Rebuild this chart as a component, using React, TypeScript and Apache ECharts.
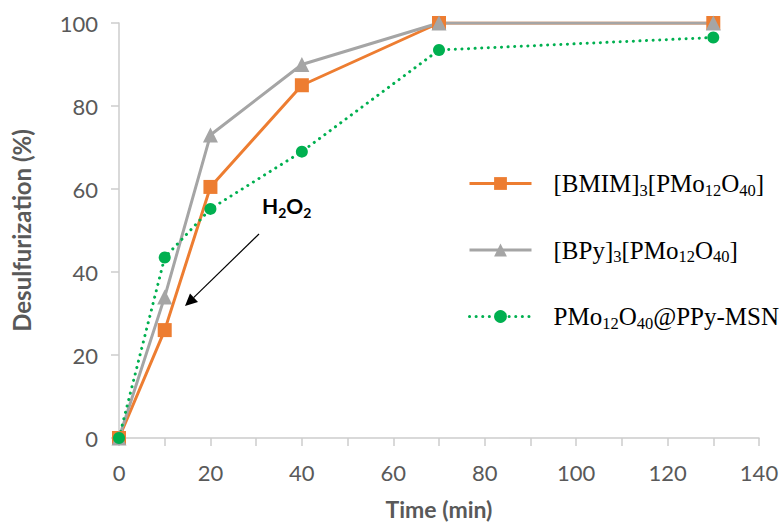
import React, { useEffect, useRef } from "react";
import * as echarts from "echarts";

const times = [0, 10, 20, 40, 70, 130];
const bmim = [0, 26, 60.5, 85, 100, 100];
const bpy = [0, 34, 73, 90, 100, 100];
const msn = [0, 43.5, 55.2, 69, 93.5, 96.5];

const seriesNames = ["[BMIM]3[PMo12O40]", "[BPy]3[PMo12O40]", "PMo12O40@PPy-MSN"];
const legendRich: Record<string, string> = {
  "[BMIM]3[PMo12O40]": "{n|[BMIM]}{s|3}{n|[PMo}{s|12}{n|O}{s|40}{n|]}",
  "[BPy]3[PMo12O40]": "{n|[BPy]}{s|3}{n|[PMo}{s|12}{n|O}{s|40}{n|]}",
  "PMo12O40@PPy-MSN": "{n|PMo}{s|12}{n|O}{s|40}{n|@PPy-MSN}",
};

const AX = "#595959";
const SANS = "Lato, 'Noto Sans', sans-serif";
const SERIF = "'Liberation Serif', 'DejaVu Serif', serif";

export default function App() {
  const ref = useRef<HTMLDivElement>(null);
  useEffect(() => {
    document.body.style.margin = "0";
    const chart = echarts.init(ref.current!, null, { renderer: "svg" });
    const pair = (ys: number[]) => times.map((t, i) => [t, ys[i]]);
    chart.setOption({
      animation: false,
      backgroundColor: "#fff",
      grid: { left: 119, right: 25, top: 23, bottom: 88 },
      xAxis: {
        type: "value",
        min: 0,
        max: 140,
        interval: 10,
        name: "Time (min)",
        nameLocation: "middle",
        nameGap: 59,
        nameTextStyle: { fontFamily: SANS, fontSize: 23, fontWeight: "bold", color: AX },
        axisLine: { show: true, lineStyle: { color: "#cccccc", width: 1.5 } },
        axisTick: { show: true, length: 8, lineStyle: { color: "#cccccc", width: 1.5 } },
        axisLabel: {
          fontFamily: SANS,
          fontSize: 22,
          color: AX,
          margin: 23,
          formatter: (v: number) => (v % 20 === 0 ? String(v) : ""),
        },
        splitLine: { show: false },
      },
      yAxis: {
        type: "value",
        min: 0,
        max: 100,
        interval: 20,
        name: "Desulfurization (%)",
        nameLocation: "middle",
        nameGap: 86,
        nameTextStyle: { fontFamily: SANS, fontSize: 24, fontWeight: "bold", color: AX },
        axisLine: { show: true, lineStyle: { color: "#cccccc", width: 1.5 } },
        axisTick: { show: true, length: 8, lineStyle: { color: "#cccccc", width: 1.5 } },
        axisLabel: { fontFamily: SANS, fontSize: 22, color: AX, margin: 21 },
        splitLine: { show: false },
      },
      legend: {
        orient: "vertical",
        left: 463,
        top: 166,
        itemWidth: 62,
        itemHeight: 16,
        itemGap: 39,
        data: seriesNames,
        lineStyle: { width: 3 },
        formatter: (name: string) => legendRich[name],
        textStyle: {
          padding: [0, 0, 0, 17],
          rich: {
            n: { fontFamily: SERIF, fontSize: 25, color: "#000", lineHeight: 30, verticalAlign: "middle" },
            s: { fontFamily: SERIF, fontSize: 16.5, color: "#000", lineHeight: 30, verticalAlign: "bottom" },
          },
        },
      },
      series: [
        {
          name: seriesNames[0],
          type: "line",
          data: pair(bmim),
          symbol: "rect",
          symbolSize: 14,
          lineStyle: { color: "#ed7d31", width: 3 },
          itemStyle: { color: "#ed7d31" },
        },
        {
          name: seriesNames[1],
          type: "line",
          data: pair(bpy),
          symbol: "triangle",
          symbolSize: 15,
          lineStyle: { color: "#a5a5a5", width: 3 },
          itemStyle: { color: "#a5a5a5" },
        },
        {
          name: seriesNames[2],
          type: "line",
          data: pair(msn),
          symbol: "circle",
          symbolSize: 12,
          lineStyle: { color: "#00b050", width: 3, type: [0.1, 6.5], cap: "round" },
          itemStyle: { color: "#00b050" },
        },
      ],
      graphic: [
        {
          type: "text",
          x: 262,
          y: 191,
          style: {
            text: "{b|H}{c|2}{b|O}{c|2}",
            rich: {
              b: { fontFamily: SANS, fontSize: 21, fontWeight: "bold", fill: "#000", lineHeight: 28, verticalAlign: "middle" },
              c: { fontFamily: SANS, fontSize: 14, fontWeight: "bold", fill: "#000", lineHeight: 28, verticalAlign: "bottom" },
            },
          },
        },
        {
          type: "line",
          shape: { x1: 259, y1: 234, x2: 193.6, y2: 297.6 },
          style: { stroke: "#000", lineWidth: 1.2 },
        },
        {
          type: "polygon",
          shape: { points: [[185, 306], [198, 302], [190, 293.5]] },
          style: { fill: "#000" },
        },
      ],
    });
    return () => chart.dispose();
  }, []);
  return <div ref={ref} style={{ width: 784, height: 526 }} />;
}
